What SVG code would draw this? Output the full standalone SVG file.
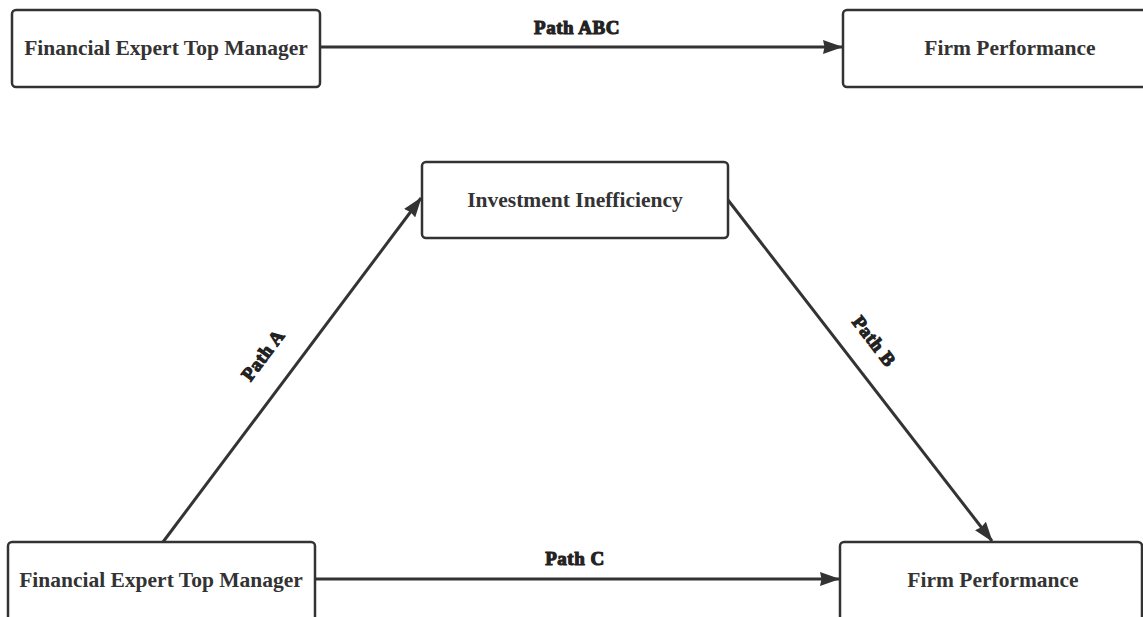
<svg xmlns="http://www.w3.org/2000/svg" width="1143" height="617" viewBox="0 0 1143 617">
<style>
.box{fill:#fff;stroke:#333;stroke-width:2.5}
.t{font-family:"Liberation Serif","Times New Roman",serif;font-weight:bold;font-size:21.5px;fill:#333;text-anchor:middle;dominant-baseline:central}
.lbl{font-family:"Liberation Serif","Times New Roman",serif;font-weight:bold;font-size:19px;fill:#222;stroke:#222;stroke-width:1.1;text-anchor:middle;letter-spacing:0.5px}
.c{stroke:#333;stroke-width:3;fill:none;marker-end:url(#ah)}
</style>
<defs>
<marker id="ah" viewBox="0 0 20 14" refX="19" refY="7" markerWidth="20" markerHeight="14" markerUnits="userSpaceOnUse" orient="auto">
<path d="M0,0 L20,7 L0,14 L1.5,7 z" fill="#333"/>
</marker>
</defs>
<rect width="1143" height="617" fill="#fff"/>
<g id="connectors">
<line class="c" x1="321" y1="47" x2="842" y2="47"/>
<line class="c" x1="316" y1="579" x2="839" y2="579"/>
<line class="c" x1="163" y1="542" x2="421" y2="198"/>
<line class="c" x1="728" y1="200" x2="992" y2="541"/>
<text class="lbl" x="577" y="34">Path ABC</text>
<text class="lbl" x="575" y="565">Path C</text>
<text class="lbl" transform="translate(268,359) rotate(-53)" x="0" y="0">Path A</text>
<text class="lbl" transform="translate(869,345) rotate(52.3)" x="0" y="0">Path B</text>
</g>
<g id="n1"><rect class="box" x="12" y="10" width="308" height="77" rx="4"/><text class="t" x="166" y="48">Financial Expert Top Manager</text></g>
<g id="n2"><rect class="box" x="843" y="10" width="310" height="77" rx="4"/><text class="t" x="1010" y="48">Firm Performance</text></g>
<g id="n3"><rect class="box" x="422" y="162" width="306" height="76" rx="4"/><text class="t" x="575" y="200">Investment Inefficiency</text></g>
<g id="n4"><rect class="box" x="8" y="542" width="307" height="85" rx="4"/><text class="t" x="161" y="580">Financial Expert Top Manager</text></g>
<g id="n5"><rect class="box" x="840" y="542" width="302" height="85" rx="4"/><text class="t" x="993" y="580">Firm Performance</text></g>
</svg>
